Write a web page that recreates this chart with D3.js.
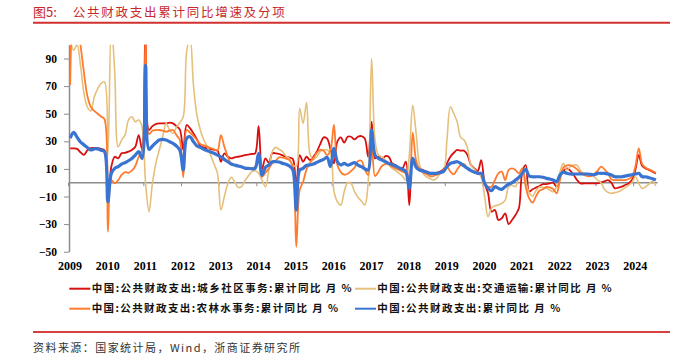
<!DOCTYPE html>
<html><head><meta charset="utf-8">
<script src="https://cdn.jsdelivr.net/npm/d3@7"></script>
<style>
html,body{margin:0;padding:0;background:#fff;}
svg{display:block;}
</style></head>
<body>
<svg id="chart" width="700" height="362"></svg>
<script>
// ---------- DATA ----------
const years = ["2009","2010","2011","2012","2013","2014","2015","2016","2017","2018","2019","2020","2021","2022","2023","2024"];
const months = [2,3,4,5,6,7,8,9,10,11,12];
const lastYearMonths = [2,3,4,5,6,7,8];
const yTicks = [90,70,50,30,10,-10,-30,-50];

const seriesNames = [
  "中国:公共财政支出:城乡社区事务:累计同比 月 %",
  "中国:公共财政支出:交通运输:累计同比 月 %",
  "中国:公共财政支出:农林水事务:累计同比 月 %",
  "中国:公共财政支出:累计同比 月 %"
];

// 城乡社区事务
const urbanRural = [
  24.9,24.9,24.5,22,20.2,23.5,25,25.2,25,24.5,23.5,
  -15,11.6,18.8,17.6,21.3,21.7,22.5,23.7,26,34.5,23.7,
  115,38.2,41,42.5,43,43,43,43.5,43,41,38.6,
  23.7,41.8,39.4,35.7,31.4,26.6,25.6,24.9,24.4,23.7,23.2,
  15.2,21.3,18.8,17.6,18.4,18.8,19.3,20,20.3,20.8,21.3,
  41,10,17.6,14.5,21.3,21.3,20.8,19.8,18.8,18.1,17.1,
  -3,20,15.2,18.8,16.4,18.8,22.5,28,32.8,32,24,
  14,29.7,32.8,29,33.3,33.3,31.4,33.3,33.8,32.1,18.8,
  44.2,17.6,18.8,16.9,19.3,18.8,14,12.8,10.4,10.4,15.2,
  -16.2,17.6,11.6,10.4,9.2,8,7.2,6.8,7.2,8,9.7,
  14,18.8,21.7,23.7,23.2,23.2,20,12.8,10.4,8.5,16.4,
  -0.5,-7.7,-21,-19.8,-27,-25.8,-22.2,-30,-27,-23.4,-18.6,
  8,12.8,-6.5,-4.8,-3.6,-2.4,-1,-1,-0.5,0,-2.9,
  4.3,8.5,10.4,8.7,5.6,1.9,-0.5,-0.5,-0.5,-0.5,-0.5,
  -0.5,0.2,1,1.9,0,-4.1,-3.6,-2.9,-1.7,-0.5,1.9,
  9.2,20,12.1,10.4,9.2,8,6.8
];
// 交通运输
const transport = [
  105,96,100,85,65,55,52,62,68,72,73,
  20,115,80,26,30.9,34.5,45.4,47.8,44.2,45.4,40,
  0,-21,-0.5,14,23.7,33.3,43,38.2,35.7,40.1,43.5,
  47.8,95,105,70,49,38.2,30.9,26.1,20,13.5,6.8,
  -19.8,-10.1,-1,3.9,0.7,-3.4,-2.9,1.4,4.8,8,8.7,
  6.8,1.9,-2.9,9.2,22.5,25.6,24.2,22.5,19.3,17.4,12.8,
  12,54,43,58,21,16.9,18.8,22.5,23.7,23.7,21.3,
  -6,-13.8,-16.2,-6.5,0,-0.5,-6.5,-10.6,-13.3,-16.2,0.7,
  90,30.9,20,18.8,16.4,12.8,10.4,8.7,6.8,4.8,1.9,
  20,56,35.7,12.8,6.8,4.3,3.1,1.9,3.1,6.8,8,
  31,55,50,44,32.8,30.9,24.9,12.8,9.7,6.8,3.9,
  -10,-24.6,-18.6,-16.7,-16.2,-15,-12.6,-2.9,-1.9,-2.9,3.9,
  8,0.7,-7.2,-9.7,-5.8,-3.1,-3.4,-4.1,-5.3,-6.5,-2.9,
  8,14,9.2,11.6,12.8,12.6,8.7,6.8,6.5,6,4.3,
  1.9,0,-4.8,-7,-7.7,-7.2,-6.5,-5.3,-3.6,-1.9,0,
  4.3,-0.5,-4.1,-2.9,-1,1,-2.4
];
// 农林水事务
const agriculture = [
  70.8,130,120,100,80,63,55,52,50,48,46,
  -35.5,1.9,-0.5,1.9,5.6,7.7,7.2,8.7,12.1,18.8,23.7,
  105,35.3,37.7,38.2,38.2,37.7,37,37.7,38.2,34.5,30.9,
  3.9,38.2,36.2,33.8,30.9,28,27,26.1,25.1,24.2,23.2,
  34.5,26.1,18.8,13.5,12.8,12.1,11.1,10.4,10.1,10.6,11.4,
  17.6,4.3,7.2,10.4,14,15.9,18.4,18.1,17.4,16.4,11.6,
  -46.4,-5.3,0.7,9.7,14.5,17.6,21.7,23.7,23.2,20,23.7,
  41.8,12.8,7.7,5.8,6.5,8.5,10.9,15.5,15.9,9.7,5.6,
  30.9,4.8,8,12.1,13.5,13.5,11.6,10.4,9.2,8,6.8,
  -4.1,36.2,15.9,9.7,7.5,6.3,4.8,4.8,5.8,6.8,9.2,
  11.6,8,6,9.7,12.8,13.5,10.4,8.7,7.2,6.8,6.3,
  -1,-2.9,-2.9,1.9,6.8,8,1.9,9.2,10.4,9.2,6.8,
  10.4,-2.9,-11.4,-14.5,-9.7,-5.8,-4.8,-3.1,-3.4,-4.6,-7.7,
  1.9,11.1,12.6,12.6,11.6,9.7,7.2,5.6,4.8,4.8,6.3,
  8.7,11.6,9.7,6.8,2.4,1.9,1.9,1.9,1.9,2.7,4.3,
  11.6,24.9,13.5,10.9,9.7,8.5,7.2
];
// 公共财政支出合计
const total = [
  32.2,36.5,33,29.5,27.5,25.5,23.7,24.5,24.5,23.5,22.5,
  -13.8,6.8,10.4,11.6,13.5,14.5,15.9,17.6,20,22.5,17.6,
  85,24.2,26.6,29,30.9,31.4,30.9,29.7,28.5,26.6,23.7,
  9.2,32.1,33.3,29.7,26.6,25.6,24.2,23.2,22.2,21.3,20,
  18.8,16.9,15.2,13.5,12.8,12.1,11.6,10.6,10.4,10.1,10.4,
  21.3,5.6,11.1,12.8,15.2,15.2,15,14,13.3,12.1,9.2,
  -19.8,9.2,10.4,12.6,12.8,13.5,14.7,15.9,16.9,18.4,11.6,
  24.9,15.2,12.8,14,12.8,13.5,14.5,12.8,11.6,10.1,9.2,
  38.2,20,17.6,16.4,15.2,14,13,12.1,10.9,9.7,8,
  -4.1,17.6,11.1,9.2,8.5,7.7,6.8,6.8,6.8,7.2,8.2,
  11.6,14,14.7,15.2,14,12.1,10.4,8.7,7.7,6.8,6.8,
  -0.5,-4.1,-5.8,-2.9,-4.1,-4.8,-2.9,-1,0,1.9,3.9,
  6.8,9.7,4.8,4.3,4.3,4.3,3.9,3.1,2.7,1.9,0.7,
  5.6,7.7,6.8,6.3,6.3,6.3,6.3,6.3,6.3,6,5.8,
  6.8,6.8,6.8,6.3,5.6,4.3,4.3,4.3,4.8,5.3,5.8,
  6.3,6.8,4.3,4.3,3.6,2.9,1.9
];

// ---------- CATEGORIES ----------
const categories = [];
years.forEach((yr, i) => {
  const ms = i === years.length - 1 ? lastYearMonths : months;
  ms.forEach(m => categories.push(yr + "-" + String(m).padStart(2, "0")));
});

// ---------- LAYOUT ----------
const svg = d3.select("#chart");
const colors = ["#D90F0F", "#E5C07B", "#FF7B2E", "#3A74D2"];
const widths = [1.8, 1.6, 1.8, 3.2];
const seriesData = [urbanRural, transport, agriculture, total];

const x = d3.scaleBand().domain(categories).range([68.5, 657.6]).paddingInner(0).paddingOuter(0);
const y = d3.scaleLinear().domain([-50, 100]).range([251.7, 44.7]);
const cx = c => x(c) + x.bandwidth() / 2;

// title
svg.append("text").attr("x", 33).attr("y", 17)
  .attr("font-family", "'Noto Sans CJK SC', sans-serif").attr("font-size", 13)
  .attr("fill", "#C8282D").text("图5:");
svg.append("text").attr("x", 72.7).attr("y", 17)
  .attr("font-family", "'Noto Sans CJK SC', sans-serif").attr("font-size", 12.5)
  .attr("fill", "#C8282D").attr("textLength", 212).attr("lengthAdjust", "spacing")
  .text("公共财政支出累计同比增速及分项");
svg.append("line").attr("x1", 33).attr("x2", 670).attr("y1", 22.7).attr("y2", 22.7)
  .attr("stroke", "#D0312F").attr("stroke-width", 2);

// clip
svg.append("clipPath").attr("id", "plotclip").append("rect")
  .attr("x", 69).attr("y", y(100)).attr("width", 660 - 69).attr("height", y(-50) - y(100));

// zero line with year ticks
const zeroY = y(0);
svg.append("line").attr("x1", 69).attr("x2", x.range()[1]).attr("y1", zeroY).attr("y2", zeroY)
  .attr("stroke", "#8C8C8C").attr("stroke-width", 1.5);
const yearStarts = years.map(yr => yr + "-02");
svg.append("g").selectAll("line").data(yearStarts).join("line")
  .attr("x1", d => x(d)).attr("x2", d => x(d))
  .attr("y1", zeroY).attr("y2", zeroY + 3.5)
  .attr("stroke", "#8C8C8C").attr("stroke-width", 1);

// y axis
const yAxis = svg.append("g").attr("transform", "translate(69,0)")
  .call(d3.axisLeft(y).tickValues(yTicks).tickSizeInner(5).tickSizeOuter(0).tickPadding(7));
yAxis.select(".domain").attr("stroke", "#8C8C8C").attr("stroke-width", 1.5);
yAxis.selectAll(".tick line").attr("stroke", "#8C8C8C").attr("stroke-width", 1);
yAxis.selectAll(".tick text")
  .attr("font-family", "'Liberation Serif', 'Times New Roman', serif")
  .attr("font-weight", "bold").attr("font-size", 11.5).attr("fill", "#000");

// x labels
svg.append("g").selectAll("text").data(years).join("text")
  .attr("x", d => x(d + "-02") + 1.5).attr("y", 269.5)
  .attr("text-anchor", "middle")
  .attr("font-family", "'Liberation Serif', 'Times New Roman', serif")
  .attr("font-weight", "bold").attr("font-size", 12).attr("fill", "#000")
  .text(d => d);

// lines
const line = d3.line().curve(d3.curveCatmullRom.alpha(0.5))
  .x((d, i) => cx(categories[i])).y(d => y(d));
const plot = svg.append("g").attr("clip-path", "url(#plotclip)");
seriesData.forEach((s, k) => {
  plot.append("path").datum(s).attr("d", line)
    .attr("fill", "none").attr("stroke", colors[k]).attr("stroke-width", widths[k])
    .attr("stroke-linejoin", "round");
});

// legend
const legendItems = [
  {k: 0, lx: 69.3, tx: 91.7, y: 288.7, len: 260},
  {k: 1, lx: 355, tx: 377.3, y: 288.7, len: 234.4},
  {k: 2, lx: 69.3, tx: 91.7, y: 308.7, len: 246.3},
  {k: 3, lx: 355, tx: 377.3, y: 308.7, len: 183}
];
const lg = svg.append("g");
legendItems.forEach(it => {
  lg.append("line").attr("x1", it.lx).attr("x2", it.lx + 21).attr("y1", it.y).attr("y2", it.y)
    .attr("stroke", colors[it.k]).attr("stroke-width", 2);
  lg.append("text").attr("x", it.tx).attr("y", it.y).attr("dy", "0.36em")
    .attr("font-family", "'Noto Sans CJK SC', sans-serif").attr("font-weight", "bold")
    .attr("font-size", 10.5).attr("fill", "#111")
    .attr("textLength", it.len).attr("lengthAdjust", "spacing")
    .text(seriesNames[it.k]);
});

// bottom rule and source
svg.append("line").attr("x1", 33).attr("x2", 670).attr("y1", 332).attr("y2", 332)
  .attr("stroke", "#C80000").attr("stroke-width", 1.6);
svg.append("text").attr("x", 33).attr("y", 347.7).attr("dy", "0.36em")
  .attr("font-family", "'Noto Sans CJK SC', sans-serif").attr("font-size", 11)
  .attr("fill", "#333").attr("textLength", 267).attr("lengthAdjust", "spacing")
  .text("资料来源：国家统计局，Wind，浙商证券研究所");
</script>
</body></html>
